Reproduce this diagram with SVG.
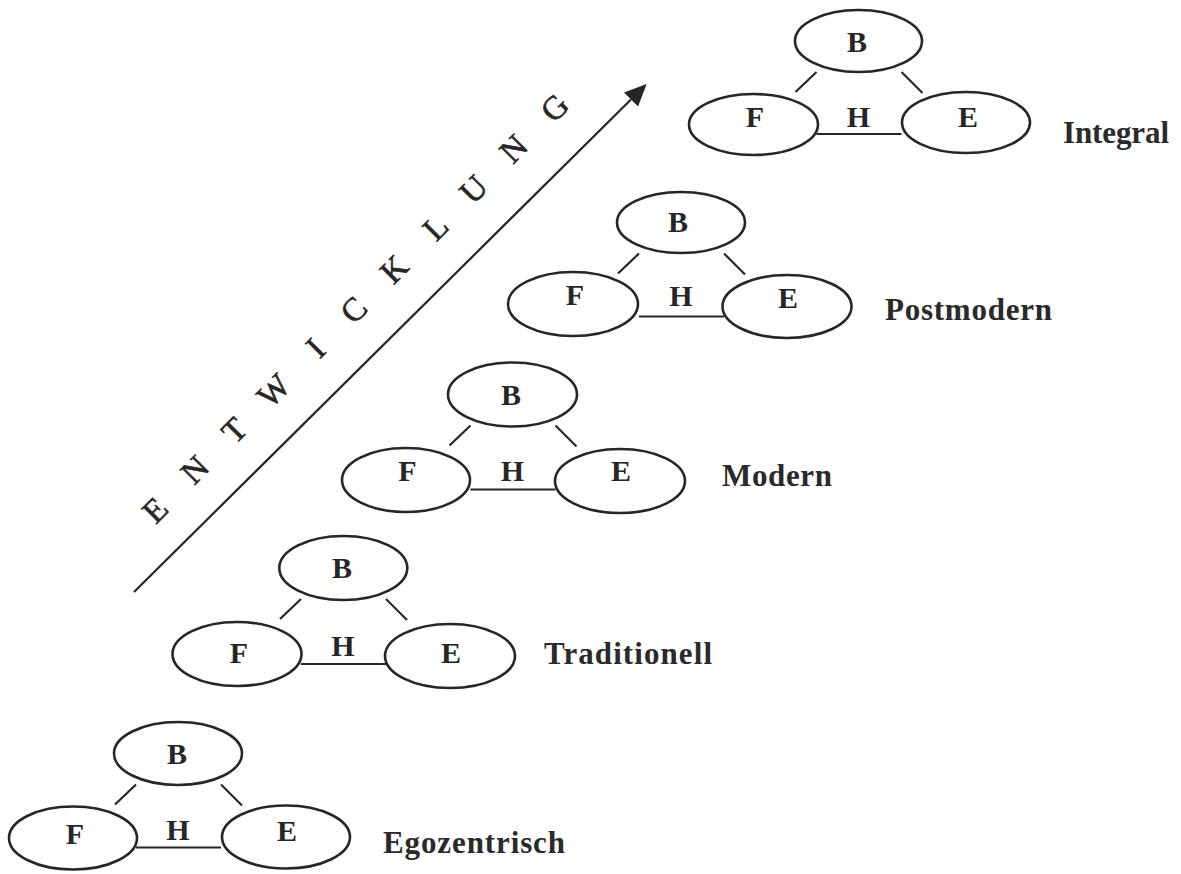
<svg xmlns="http://www.w3.org/2000/svg" width="1181" height="874" viewBox="0 0 1181 874">
<style>
.n{fill:none;stroke:#262626;stroke-width:2.6}
.c{stroke:#262626;stroke-width:2.2;fill:none}
.t{font-family:"Liberation Serif","Times New Roman",serif;font-weight:bold;font-size:30px;fill:#262626;text-anchor:middle}
.lab{font-family:"Liberation Serif","Times New Roman",serif;font-weight:bold;font-size:31px;fill:#2a2a2a}
.w{font-family:"Liberation Serif","Times New Roman",serif;font-size:33px;fill:#262626;stroke:#262626;stroke-width:0.6;text-anchor:middle}
</style>
<defs>
<marker id="ah" markerUnits="userSpaceOnUse" viewBox="0 0 22 20" refX="0" refY="10" markerWidth="22" markerHeight="20" orient="auto">
<path d="M0,0 L22,10 L0,20 z" fill="#262626"/>
</marker>
</defs>
<rect width="1181" height="874" fill="#ffffff"/>

<g id="connectors">
<line class="c" x1="134" y1="592" x2="631" y2="99.5" marker-end="url(#ah)"/>
<g id="c-ego" transform="translate(178,753.5)">
<line class="c" x1="-42" y1="31" x2="-63" y2="51"/><line class="c" x1="43" y1="31" x2="64" y2="52"/><line class="c" x1="-42" y1="94" x2="43" y2="94"/>
<text class="t" x="0" y="86">H</text>
</g>
<g id="c-trad" transform="translate(343,568)">
<line class="c" x1="-42" y1="31" x2="-63" y2="51"/><line class="c" x1="43" y1="31" x2="64" y2="52"/><line class="c" x1="-42" y1="96" x2="43" y2="96"/>
<text class="t" x="0" y="88">H</text>
</g>
<g id="c-mod" transform="translate(512.5,394.5)">
<line class="c" x1="-42" y1="31" x2="-63" y2="51"/><line class="c" x1="43" y1="31" x2="64" y2="52"/><line class="c" x1="-42" y1="95" x2="43" y2="95"/>
<text class="t" x="0" y="86">H</text>
</g>
<g id="c-post" transform="translate(681,222.5)">
<line class="c" x1="-42" y1="31" x2="-63" y2="51"/><line class="c" x1="43" y1="31" x2="64" y2="52"/><line class="c" x1="-42" y1="94" x2="43" y2="94"/>
<text class="t" x="0" y="83">H</text>
</g>
<g id="c-int" transform="translate(858.5,41)">
<line class="c" x1="-42" y1="31" x2="-63" y2="51"/><line class="c" x1="43" y1="31" x2="64" y2="52"/><line class="c" x1="-42" y1="93" x2="43" y2="93"/>
<text class="t" x="0" y="86">H</text>
</g>
</g>

<g id="entwicklung" transform="translate(155,510) rotate(-45.2)">
<text class="w" x="0" y="11">E</text>
<text class="w" x="56.6" y="11">N</text>
<text class="w" x="112.4" y="11">T</text>
<text class="w" x="168.3" y="11">W</text>
<text class="w" x="228" y="11">I</text>
<text class="w" x="282" y="11">C</text>
<text class="w" x="339.4" y="11">K</text>
<text class="w" x="398" y="11">L</text>
<text class="w" x="452" y="11">U</text>
<text class="w" x="509" y="11">N</text>
<text class="w" x="567" y="11">G</text>
</g>

<g id="ego-B"><ellipse class="n" cx="178" cy="753.5" rx="64" ry="31.5"/><text class="t" x="177" y="764">B</text></g>
<g id="ego-F"><ellipse class="n" cx="73" cy="838" rx="64" ry="31.5"/><text class="t" x="75" y="844">F</text></g>
<g id="ego-E"><ellipse class="n" cx="286" cy="837" rx="64" ry="31.5"/><text class="t" x="287" y="841">E</text></g>
<g id="ego-label"><text class="lab" x="383" y="852.5" textLength="182" lengthAdjust="spacing">Egozentrisch</text></g>

<g id="trad-B"><ellipse class="n" cx="343.3" cy="568" rx="64" ry="32"/><text class="t" x="342" y="578">B</text></g>
<g id="trad-F"><ellipse class="n" cx="237" cy="654" rx="64.5" ry="32"/><text class="t" x="239" y="663">F</text></g>
<g id="trad-E"><ellipse class="n" cx="450" cy="656" rx="65" ry="32"/><text class="t" x="451" y="663">E</text></g>
<g id="trad-label"><text class="lab" x="544" y="664" textLength="168" lengthAdjust="spacing">Traditionell</text></g>

<g id="mod-B"><ellipse class="n" cx="512.5" cy="394.5" rx="64.5" ry="32"/><text class="t" x="511" y="405">B</text></g>
<g id="mod-F"><ellipse class="n" cx="406" cy="480" rx="64" ry="32"/><text class="t" x="407.5" y="481">F</text></g>
<g id="mod-E"><ellipse class="n" cx="620" cy="481" rx="65" ry="32"/><text class="t" x="621" y="481">E</text></g>
<g id="mod-label"><text class="lab" x="722" y="486" textLength="110" lengthAdjust="spacing">Modern</text></g>

<g id="post-B"><ellipse class="n" cx="681" cy="222.5" rx="64" ry="30.5"/><text class="t" x="678" y="232">B</text></g>
<g id="post-F"><ellipse class="n" cx="573" cy="304" rx="65" ry="32"/><text class="t" x="575" y="305">F</text></g>
<g id="post-E"><ellipse class="n" cx="787" cy="306.5" rx="64.5" ry="31.5"/><text class="t" x="788" y="308">E</text></g>
<g id="post-label"><text class="lab" x="885" y="320" textLength="167" lengthAdjust="spacing">Postmodern</text></g>

<g id="int-B"><ellipse class="n" cx="858.5" cy="41" rx="63.5" ry="31"/><text class="t" x="857" y="52">B</text></g>
<g id="int-F"><ellipse class="n" cx="753.5" cy="124.5" rx="64.5" ry="30.5"/><text class="t" x="755" y="127">F</text></g>
<g id="int-E"><ellipse class="n" cx="966" cy="122.5" rx="64" ry="30.5"/><text class="t" x="968" y="127">E</text></g>
<g id="int-label"><text class="lab" x="1063" y="143" textLength="106" lengthAdjust="spacing">Integral</text></g>
</svg>
